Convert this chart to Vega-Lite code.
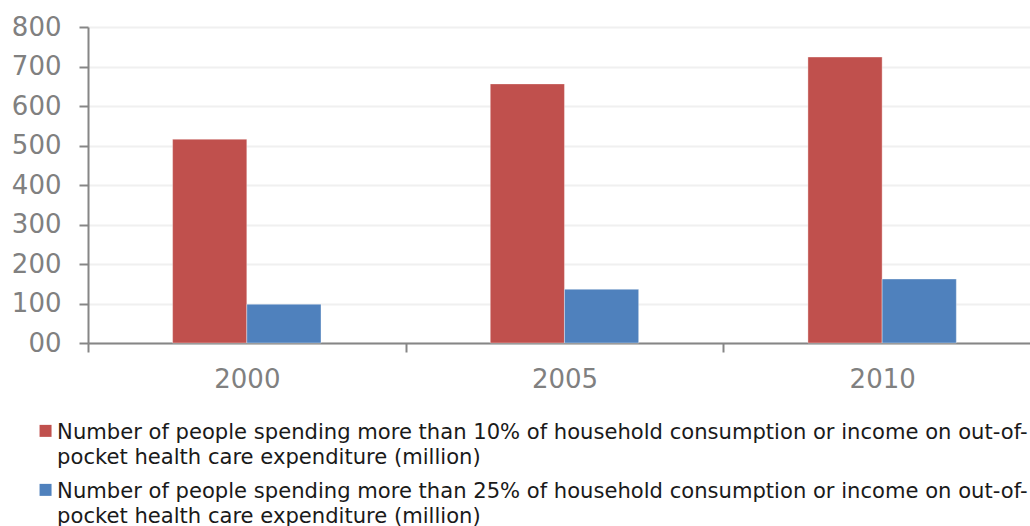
{
  "$schema": "https://vega.github.io/schema/vega-lite/v6.json",
  "width": 942,
  "height": 316,
  "autosize": {"type": "none"},
  "padding": {"left": 88, "top": 27, "right": 0, "bottom": 183},
  "background": "#ffffff",
  "config": {
    "view": {"stroke": null},
    "font": "DejaVu Sans",
    "style": {"guide-label": {"lineHeight": 25.5}}
  },
  "data": {
    "values": [
      {"year": "2000", "series": "Number of people spending more than 10% of household consumption or income on out-of-pocket health care expenditure (million)", "value": 516},
      {"year": "2000", "series": "Number of people spending more than 25% of household consumption or income on out-of-pocket health care expenditure (million)", "value": 98},
      {"year": "2005", "series": "Number of people spending more than 10% of household consumption or income on out-of-pocket health care expenditure (million)", "value": 656},
      {"year": "2005", "series": "Number of people spending more than 25% of household consumption or income on out-of-pocket health care expenditure (million)", "value": 136},
      {"year": "2010", "series": "Number of people spending more than 10% of household consumption or income on out-of-pocket health care expenditure (million)", "value": 724},
      {"year": "2010", "series": "Number of people spending more than 25% of household consumption or income on out-of-pocket health care expenditure (million)", "value": 162}
    ]
  },
  "mark": {"type": "bar", "stroke": "#ffffff", "strokeWidth": 0.8, "strokeOpacity": 0.45},
  "encoding": {
    "x": {
      "field": "year",
      "type": "nominal",
      "scale": {"range": [0, 953], "paddingInner": 0, "paddingOuter": 0},
      "axis": {
        "title": null,
        "labelAngle": 0,
        "labelFont": "DejaVu Sans",
        "labelFontSize": 26,
        "labelColor": "#808080",
        "labelPadding": 14,
        "labelBaseline": "top",
        "domainColor": "#868686",
        "domainWidth": 2,
        "tickColor": "#868686",
        "tickWidth": 2,
        "tickSize": 9,
        "tickBand": "extent",
        "grid": false
      }
    },
    "xOffset": {
      "field": "series",
      "type": "nominal",
      "scale": {"range": [84.6, 233], "paddingInner": 0, "paddingOuter": 0}
    },
    "y": {
      "field": "value",
      "type": "quantitative",
      "scale": {"domain": [0, 800], "nice": false},
      "axis": {
        "title": null,
        "values": [0, 100, 200, 300, 400, 500, 600, 700, 800],
        "labelExpr": "datum.value === 0 ? '00' : datum.label",
        "labelFont": "DejaVu Sans",
        "labelFontSize": 26,
        "labelColor": "#808080",
        "labelPadding": 18,
        "domainColor": "#868686",
        "domainWidth": 2,
        "tickColor": "#868686",
        "tickWidth": 2,
        "tickSize": 9,
        "grid": true,
        "gridColor": "#f0f0f0",
        "gridWidth": 2
      }
    },
    "color": {
      "field": "series",
      "type": "nominal",
      "scale": {"range": ["#C0504D", "#4F81BD"]},
      "legend": {
        "title": null,
        "orient": "none",
        "legendX": -53,
        "legendY": 401,
        "direction": "vertical",
        "padding": 0,
        "symbolType": "M-1,-2.28L1,-2.28L1,-0.28L-1,-0.28Z",
        "symbolSize": 144,
        "symbolStrokeWidth": 0,
        "labelFont": "DejaVu Sans",
        "labelFontSize": 21.1,
        "labelColor": "#1a1a1a",
        "labelBaseline": "alphabetic",
        "labelOffset": 1,
        "labelLimit": 2000,
        "rowPadding": 11,
        "labelExpr": "[substring(datum.label, 0, indexof(datum.label, 'out-of-') + 7), substring(datum.label, indexof(datum.label, 'out-of-') + 7)]",
        "encode": {"labels": {"update": {"lineHeight": {"value": 25.5}}}}
      }
    }
  }
}
